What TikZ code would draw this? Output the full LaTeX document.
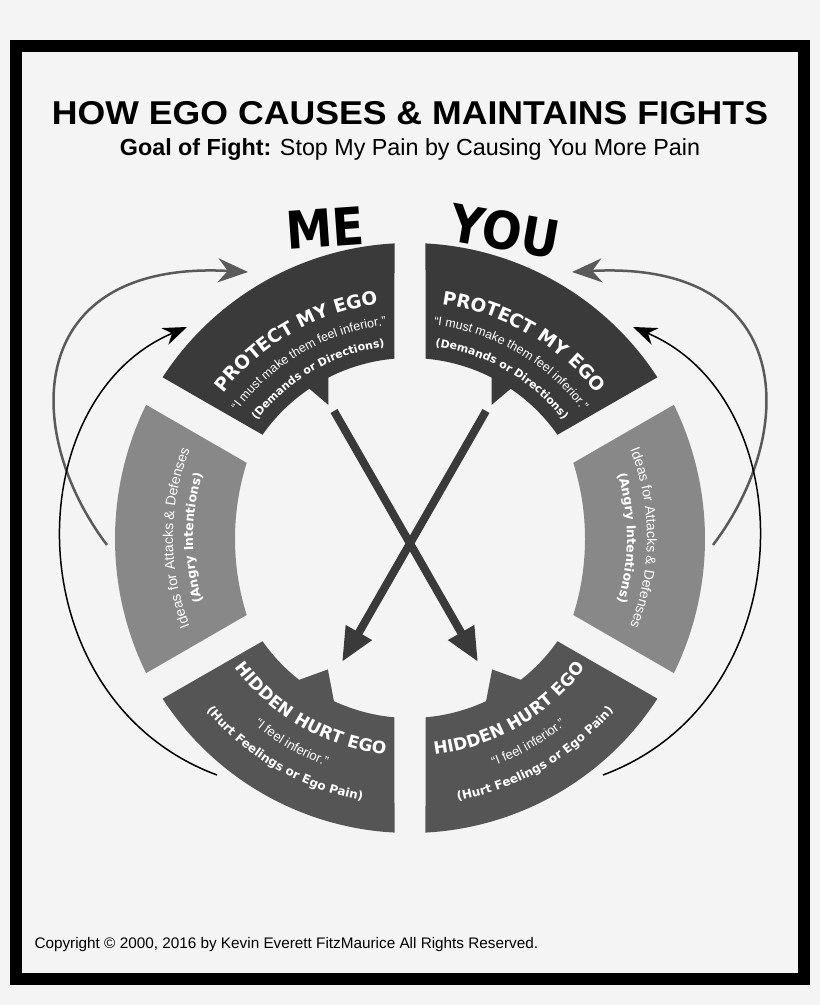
\documentclass[tikz,border=0pt]{standalone}
\usepackage{fontspec}
\setmainfont{Liberation Sans}
\newfontfamily\heavy{DejaVu Sans}
\usetikzlibrary{arrows.meta,decorations.text}
\definecolor{bg}{HTML}{F4F4F4}
\definecolor{segA}{HTML}{3A3A3A}
\definecolor{segB}{HTML}{888888}
\definecolor{segC}{HTML}{555555}
\definecolor{arrG}{HTML}{5A5A5A}
\tikzset{
  arctext/.style={decorate, decoration={text along path, text align=center, text={#1}}},
  xarrow/.style={draw=segA, line width=8pt, -{Triangle[length=34pt,width=28pt]}},
  garrow/.style={draw=arrG, line width=2.5pt, -{Stealth[length=30pt,width=24pt]}},
  barrow/.style={draw=black, line width=1.5pt, -{Stealth[length=24pt,width=18pt]}},
}
\newcommand\segshapes{%
  \fill[segA,shift={(410,467)}] (93:295) arc[start angle=93,end angle=147,radius=295]
    -- (145:180) arc[start angle=145,end angle=124,radius=180] -- (121.5:156) -- (117:180)
    arc[start angle=117,end angle=95,radius=180] -- cycle;
  \fill[segB] (146.1,600.2) arc[start angle=153.9,end angle=206.1,radius=305]
    -- (246.7,390) arc[start angle=197.5,end angle=162.5,radius=253] -- cycle;
  \fill[segC,shift={(410,467)}] (213:295) arc[start angle=213,end angle=267,radius=295]
    -- (265:180) arc[start angle=265,end angle=245,radius=180] -- (238:155) -- (232:180)
    arc[start angle=232,end angle=215,radius=180] -- cycle;
}
\begin{document}
\begin{tikzpicture}[x=1pt,y=1pt]
\useasboundingbox (0,0) rectangle (820,1005);
\fill[bg] (0,0) rectangle (820,1005);
\draw[line width=12pt] (16,26) rectangle (804,959);

\node[xscale=1.08] (title) at (410,892) {\fontsize{33}{38}\selectfont\bfseries HOW EGO CAUSES \& MAINTAINS FIGHTS};
\node (sub) at (410,855) {\fontsize{23.3}{28}\selectfont\textbf{Goal of Fight:} Stop My Pain by Causing You More Pain};
\node[anchor=west] (copy) at (31,60) {\fontsize{15.3}{18}\selectfont Copyright © 2000, 2016 by Kevin Everett FitzMaurice All Rights Reserved.};
\node[rotate=4,xscale=0.9] (me) at (325,777) {\heavy\bfseries\fontsize{52}{56}\selectfont ME};
\node[rotate=-10,xscale=0.9] (you) at (505,774) {\heavy\bfseries\fontsize{52}{56}\selectfont YOU};

\segshapes
\begin{scope}[shift={(820,0)},xscale=-1]
\segshapes
\end{scope}

\begin{scope}[shift={(410,467)}]
% top left
\path[arctext={|\color{white}\heavy\bfseries\fontsize{18.5}{22}\selectfont|PROTECT MY EGO}] (150:236) arc[start angle=150,end angle=90,radius=236];
\path[arctext={|\color{white}\fontsize{12.5}{15}\selectfont|“I must make them feel inferior.”}] (150:214) arc[start angle=150,end angle=90,radius=214];
\path[arctext={|\color{white}\heavy\bfseries\fontsize{11}{13}\selectfont|(Demands or Directions)}] (150:193) arc[start angle=150,end angle=90,radius=193];
% top right
\path[arctext={|\color{white}\heavy\bfseries\fontsize{18.5}{22}\selectfont|PROTECT MY EGO}] (90:236) arc[start angle=90,end angle=30,radius=236];
\path[arctext={|\color{white}\fontsize{12.5}{15}\selectfont|“I must make them feel inferior.”}] (90:214) arc[start angle=90,end angle=30,radius=214];
\path[arctext={|\color{white}\heavy\bfseries\fontsize{11}{13}\selectfont|(Demands or Directions)}] (90:193) arc[start angle=90,end angle=30,radius=193];
% left
\path[arctext={|\color{white}\fontsize{14}{16}\selectfont|Ideas for Attacks {\&} Defenses}] (205:237) arc[start angle=205,end angle=155,radius=237];
\path[arctext={|\color{white}\heavy\bfseries\fontsize{12.5}{15}\selectfont|(Angry Intentions)}] (205:217) arc[start angle=205,end angle=155,radius=217];
% right
\path[arctext={|\color{white}\fontsize{14}{16}\selectfont|Ideas for Attacks {\&} Defenses}] (25:237) arc[start angle=25,end angle=-25,radius=237];
\path[arctext={|\color{white}\heavy\bfseries\fontsize{12.5}{15}\selectfont|(Angry Intentions)}] (25:217) arc[start angle=25,end angle=-25,radius=217];
% bottom left
\path[arctext={|\color{white}\heavy\bfseries\fontsize{17}{20}\selectfont|HIDDEN HURT EGO}] (210:218) arc[start angle=210,end angle=270,radius=218];
\path[arctext={|\color{white}\fontsize{13}{16}\selectfont|“I feel inferior.”}] (210:243) arc[start angle=210,end angle=270,radius=243];
\path[arctext={|\color{white}\heavy\bfseries\fontsize{12}{15}\selectfont|(Hurt Feelings or Ego Pain)}] (210:267) arc[start angle=210,end angle=270,radius=267];
% bottom right
\path[arctext={|\color{white}\heavy\bfseries\fontsize{17}{20}\selectfont|HIDDEN HURT EGO}] (270:218) arc[start angle=270,end angle=330,radius=218];
\path[arctext={|\color{white}\fontsize{13}{16}\selectfont|“I feel inferior.”}] (270:243) arc[start angle=270,end angle=330,radius=243];
\path[arctext={|\color{white}\heavy\bfseries\fontsize{12}{15}\selectfont|(Hurt Feelings or Ego Pain)}] (270:267) arc[start angle=270,end angle=330,radius=267];
\end{scope}

% X arrows
\coordinate (l1) at (334,594);
\coordinate (l2) at (478,343);
\coordinate (r1) at (486,594);
\coordinate (r2) at (342,343);
\draw[xarrow] (l1) -- (l2);
\draw[xarrow] (r1) -- (r2);

% curved arrows
\coordinate (gl0) at (107,460); \coordinate (gl1) at (248,733);
\coordinate (bl0) at (217,230); \coordinate (bl1) at (187,678);
\coordinate (gr0) at (713,460); \coordinate (gr1) at (572,733);
\coordinate (br0) at (603,230); \coordinate (br1) at (633,678);
\draw[garrow] (gl0) .. controls (20,575) and (25,745) .. (gl1);
\draw[barrow] (bl0) .. controls (15,305) and (15,605) .. (bl1);
\draw[garrow] (gr0) .. controls (800,575) and (795,745) .. (gr1);
\draw[barrow] (br0) .. controls (805,305) and (805,605) .. (br1);
\end{tikzpicture}
\end{document}
